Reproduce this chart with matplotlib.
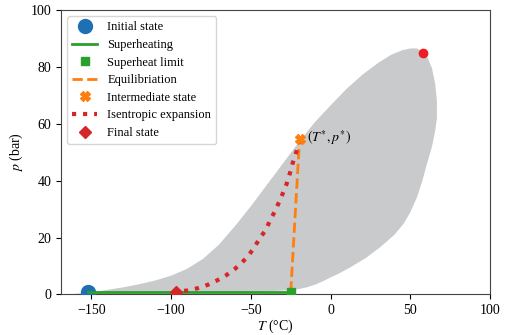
import matplotlib
matplotlib.use("Agg")
import matplotlib.pyplot as plt
import numpy as np

plt.rcParams['font.family'] = ['Liberation Serif', 'DejaVu Serif']
plt.rcParams['mathtext.fontset'] = 'stix'
plt.rcParams['axes.unicode_minus'] = True

# two-phase envelope, traced around (T in C, p in bar)
env_T = [-162, -150, -140, -130, -120, -110, -100, -90, -80, -70, -60, -50, -40, -30, -20, -10,
         0, 10, 20, 30, 38, 45, 50, 54, 57.5, 60.5, 63.5, 65.5, 66.6, 66.6, 65.5, 63.5, 60.4,
         57.5, 54.2, 50, 45.8, 40, 31.25, 22, 12.5, 5, 0, -5, -10, -15, -20, -25, -40, -60,
         -80, -100, -130, -162]
env_p = [0.1, 0.8, 1.6, 2.5, 3.6, 4.9, 6.6, 9.0, 12.5, 17.5, 24.0, 31.0, 38.5, 46.0, 53.5, 60.5,
         66.5, 72.3, 77.3, 81.5, 84.3, 85.9, 86.5, 86.5, 85.5, 83.6, 79.5, 74.2, 68.0, 62.0, 57.5, 52.0, 46.0,
         40.0, 34.3, 29.0, 24.9, 21.0, 16.7, 12.8, 9.6, 7.3, 6.0, 4.6, 3.4, 2.5, 1.9, 1.5, 1.1, 0.8,
         0.6, 0.45, 0.3, 0.1]

T0, p0 = -152, 1.0          # initial state
T_sh, p_sh = -25, 1.0       # superheat limit
T_int, p_int = -19.5, 54.5  # intermediate state
T_fin, p_fin = -97, 1.0     # final state
T_crit, p_crit = 57.7, 85.0

isen_T = [-19.5, -21.9, -23.9, -25.6, -27.5, -29.8, -32.3, -35.0, -37.9, -40.6, -44.5,
          -48.0, -51.4, -55.6, -60.4, -65.6, -71.3, -77.0, -83.3, -89.6, -97.0]
isen_p = [54.5, 49.3, 46.0, 42.5, 39.0, 35.8, 32.5, 29.2, 26.1, 22.8, 19.6,
          16.5, 13.7, 11.2, 8.8, 6.7, 4.9, 3.4, 2.2, 1.4, 1.0]

fig = plt.figure(figsize=(5.08, 3.35), dpi=100)
ax = fig.add_axes([0.12, 0.121, 0.845, 0.849])

ax.fill(env_T, env_p, color='#c9cacc', lw=0, zorder=1)

ax.plot([T0], [p0], 'o', color='#1f6fb4', ms=10, label='Initial state', zorder=3)
ax.plot([T0, T_sh], [p0, p_sh], '-', color='#2ca02c', lw=2, label='Superheating', zorder=4)
ax.plot([T_sh], [p_sh], 's', color='#2ca02c', ms=6, label='Superheat limit', zorder=5)
ax.plot([T_sh, T_int], [p_sh, p_int], '--', color='#ff7f0e', lw=2,
        label='Equilibriation', zorder=4)
ax.plot([T_int], [p_int], 'X', color='#ff7f0e', ms=6.5, label='Intermediate state', zorder=6)
ax.plot(isen_T, isen_p, ':', color='#d62728', lw=3, label='Isentropic expansion', zorder=5)
ax.plot([T_fin], [p_fin], 'D', color='#d62728', ms=6, label='Final state', zorder=6)
ax.plot([T_crit], [p_crit], 'o', color='#ee1c25', ms=6, zorder=6)

ax.annotate(r'$(T^{*},p^{*})$', xy=(T_int, p_int), xytext=(-15, 55), fontsize=10,
            va='center', ha='left')

ax.set_xlim(-169, 100)
ax.set_ylim(0, 100)
ax.set_xticks([-150, -100, -50, 0, 50, 100])
ax.set_yticks([0, 20, 40, 60, 80, 100])
ax.set_xlabel(r'$T$ (°C)', fontsize=10, labelpad=0)
ax.set_ylabel(r'$p$ (bar)', fontsize=10)
ax.tick_params(labelsize=10)
for s in ax.spines.values():
    s.set_color('#444444')

ax.legend(loc='upper left', fontsize=9, borderpad=0.4, labelspacing=0.45,
          handletextpad=0.8, borderaxespad=0.5)

fig.savefig('out.png', dpi=100)
